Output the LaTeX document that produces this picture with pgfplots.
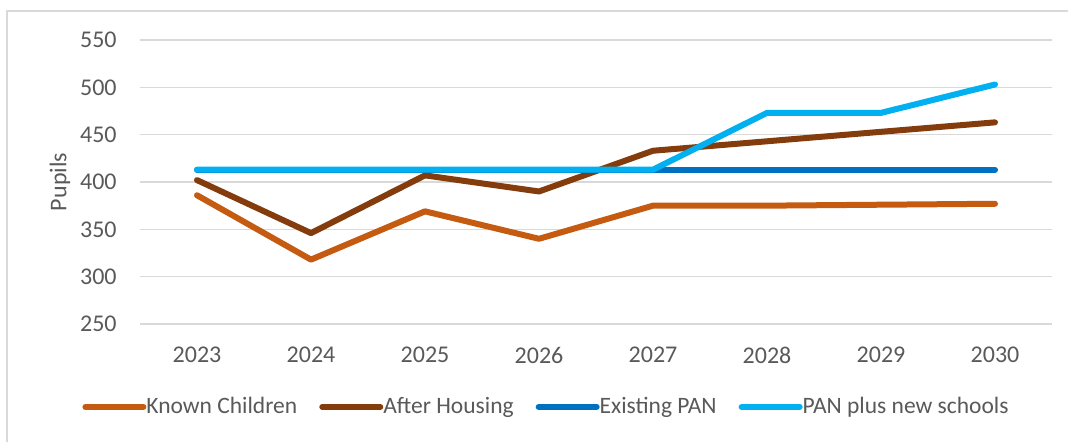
\documentclass[border=0pt]{standalone}
\usepackage{fontspec}
\setmainfont{Carlito}
\usepackage{pgfplots}
\pgfplotsset{compat=1.18}
\definecolor{kc}{HTML}{C55A11}
\definecolor{ah}{HTML}{843C0C}
\definecolor{ep}{HTML}{0070C0}
\definecolor{pn}{HTML}{00B0F0}
\definecolor{gridc}{HTML}{D9D9D9}
\definecolor{txt}{HTML}{595959}
\begin{document}
\begin{tikzpicture}
\useasboundingbox (0,0) rectangle (534pt,221pt);
\draw[gridc, line width=0.75pt] (3.5pt,0) -- (3.5pt,215.5pt) -- (534pt,215.5pt);
\begin{axis}[
  at={(70pt,59pt)}, anchor=south west,
  scale only axis, width=456pt, height=142pt,
  xmin=-0.5, xmax=7.5, ymin=250, ymax=550,
  xtick={0,...,7}, xticklabels={2023,2024,2025,2026,2027,2028,2029,2030},
  ytick={250,300,...,550},
  xmajorgrids=false, ymajorgrids=true,
  grid style={draw=gridc, line width=0.75pt},
  axis line style={draw=none},
  major tick length=0pt,
  /pgf/number format/assume math mode=true,
  /pgf/number format/1000 sep={},
  tick label style={font=\fontsize{12}{14}\selectfont, text=txt},
  xticklabel style={inner sep=0pt, anchor=north, yshift=-11.5pt},
  yticklabel style={inner sep=0pt, anchor=east, xshift=-11.5pt},
  legend columns=4,
  legend style={at={(-0.0636,-0.292)}, anchor=west, draw=none, fill=none,
    inner sep=0pt, column sep=0pt,
    nodes={inner sep=0pt, font=\fontsize{11.75}{14}\selectfont, text=txt}},
  /tikz/every even column/.append style={column sep=11pt},
  legend image code/.code={\path (0pt,0pt) -- (29pt,0pt); \draw[#1, line cap=round] (1.5pt,0pt) -- (26pt,0pt);},
  every axis plot/.append style={line width=3pt, line join=round, line cap=round},
]
\addplot[kc] coordinates {(0,386) (1,318) (2,369) (3,340) (4,375) (5,375) (6,376) (7,377)};
\addlegendentry{Known Children}
\addplot[ah] coordinates {(0,402) (1,346) (2,407) (3,390) (4,433) (5,443) (6,453) (7,463)};
\addlegendentry{After Housing}
\addplot[ep] coordinates {(0,413) (1,413) (2,413) (3,413) (4,413) (5,413) (6,413) (7,413)};
\addlegendentry{Existing PAN}
\addplot[pn] coordinates {(0,413) (1,413) (2,413) (3,413) (4,413) (5,473) (6,473) (7,503)};
\addlegendentry{PAN plus new schools}
\end{axis}
\node[rotate=90, text=txt, font=\fontsize{12}{14}\selectfont] at (30pt,130pt) {Pupils};
\end{tikzpicture}
\end{document}
